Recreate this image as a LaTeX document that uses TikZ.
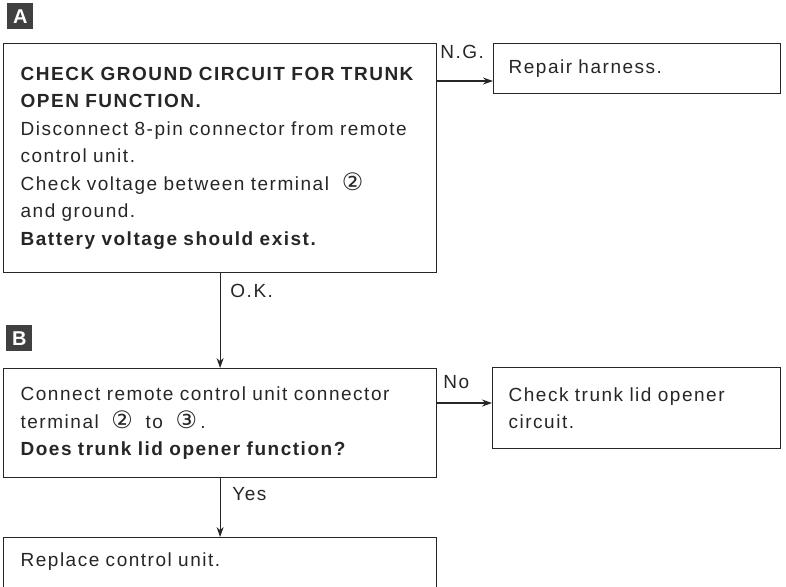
\documentclass[tikz,border=0pt]{standalone}
\usepackage{fontspec}
\setmainfont{Liberation Sans}[LetterSpace=8]
\newfontfamily\circfont{DejaVu Sans}
\usepackage{tikz}
\usetikzlibrary{arrows.meta}
\tikzstyle{process} = [rectangle, draw=black!85, line width=0.6pt, anchor=north west, align=left, inner ysep=0pt, text=black!85, font=\fontsize{9.5}{13.75}\selectfont]
\tikzstyle{answer} = [inner sep=0pt, anchor=base west, text=black!85, font=\fontsize{9.5}{13.75}\selectfont]
\tikzstyle{marker} = [rectangle, fill=black!75, text=white, anchor=north west, minimum size=13pt, inner sep=0pt, font=\fontsize{10}{12}\selectfont\bfseries]
\tikzstyle{arrow} = [draw=black!85, line width=0.6pt, ->, >={Stealth[length=5pt, width=3.5pt]}]
\newcommand{\circnum}[1]{{\circfont\fontsize{12}{13.75}\selectfont #1}}

\begin{document}
\begin{tikzpicture}[x=0.5pt, y=-0.5pt]
    \useasboundingbox (0,0) rectangle (786,586);

    % Marcas
    \node (markA) [marker] at (7,3) {A};
    \node (markB) [marker] at (6,325) {B};

    % Nodes
    \node (checkA) [process, inner xsep=8.5pt, text width=199.5pt, minimum height=114.5pt] at (3,43)
        {\textbf{CHECK GROUND CIRCUIT FOR TRUNK}\\
         \textbf{OPEN FUNCTION.}\\
         Disconnect 8-pin connector from remote\\
         control unit.\\
         Check voltage between terminal \ \circnum{②}\\
         and ground.\\
         \textbf{Battery voltage should exist.}};

    \node (repair) [process, inner xsep=7.5pt, text width=128.5pt, minimum height=25pt] at (493,43) {Repair harness.};

    \node (checkB) [process, inner xsep=8.5pt, text width=199.5pt, minimum height=54.5pt] at (3,368)
        {Connect remote control unit connector\\
         terminal \ \circnum{②} \ to \ \circnum{③}\,.\\
         \textbf{Does trunk lid opener function?}};

    \node (trunklid) [process, inner xsep=8pt, text width=128pt, minimum height=40.5pt] at (492,367)
        {Check trunk lid opener\\ circuit.};

    \node (replace) [process, inner xsep=8.5pt, text width=199.5pt, text height=14.5pt, text depth=40pt] at (3,537) {Replace control unit.};

    % Labels
    \node (ng) [answer] at (440,58) {N.G.};
    \node (no) [answer] at (443,388) {No};
    \node (ok) [answer] at (230,297) {O.K.};
    \node (yes) [answer] at (232,500) {Yes};

    % Connections
    \coordinate (ngpt) at (0,81);
    \coordinate (nopt) at (0,403);
    \draw [arrow] (checkA.east |- ngpt) -- (repair.west |- ngpt);
    \draw [arrow] (checkB.east |- nopt) -- (trunklid.west |- nopt);
    \draw [arrow] (checkA.south) -- (checkB.north);
    \draw [arrow] (checkB.south) -- (replace.north);

\end{tikzpicture}
\end{document}
